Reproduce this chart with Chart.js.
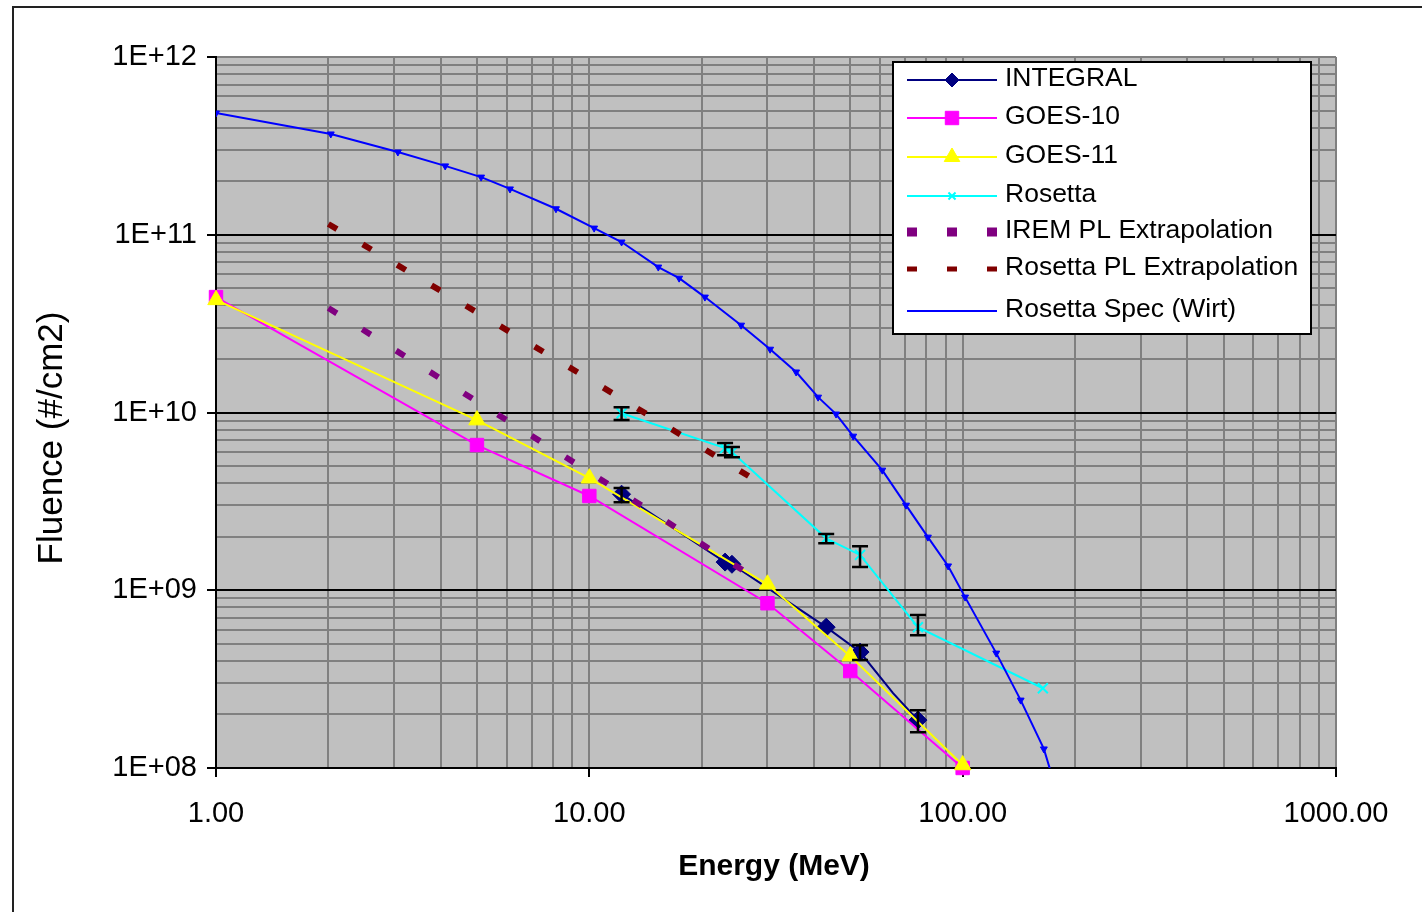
<!DOCTYPE html>
<html>
<head>
<meta charset="utf-8">
<script src="https://cdn.jsdelivr.net/npm/chart.js@4.4.1/dist/chart.umd.min.js"></script>
<style>
  body { margin: 0; background: #fff; }
  #wrap { width: 1422px; height: 912px; position: relative; }
</style>
</head>
<body>
<div id="wrap"><canvas id="chart" width="1422" height="912"></canvas></div>
<script>
// energy (MeV) / fluence (#/cm2)
const integralEnergy = [12.2, 23.1, 24.1, 43.1, 53.1, 65.1, 75.9];
const integralFluence = [3.47e9, 1.44e9, 1.40e9, 6.2e8, 4.49e8, 2.64e8, 1.86e8];
const integralErrLow = [3.13e9, null, null, null, 4.05e8, null, 1.59e8];
const integralErrHigh = [3.76e9, null, null, null, 4.91e8, null, 2.11e8];

const goes10Energy = [1, 5, 10, 30, 50, 100];
const goes10Fluence = [4.46e10, 6.56e9, 3.39e9, 8.45e8, 3.51e8, 1.0e8];

const goes11Energy = [1, 5, 10, 30, 50, 100];
const goes11Fluence = [4.3e10, 9.06e9, 4.27e9, 1.08e9, 4.26e8, 1.04e8];

const rosettaEnergy = [12.2, 23.1, 24.1, 43.1, 53.1, 75.9, 164];
const rosettaFluence = [9.9e9, 6.3e9, 5.99e9, 1.96e9, 1.58e9, 6.2e8, 2.81e8];
const rosettaErrLow = [9.06e9, 5.75e9, 5.6e9, 1.84e9, 1.35e9, 5.59e8, null];
const rosettaErrHigh = [1.07e10, 6.73e9, 6.4e9, 2.07e9, 1.77e9, 7.25e8, null];

const iremPlEnergy = [2, 10, 26];
const iremPlFluence = [3.87e10, 4.62e9, 1.28e9];

const rosettaPlEnergy = [2, 10, 27];
const rosettaPlFluence = [1.15e11, 1.54e10, 4.33e9];

const wirtEnergy = [1.0, 2.03, 3.07, 4.11, 5.13, 6.13, 8.14, 10.3, 12.2, 15.3, 17.4, 20.4, 25.5, 30.5, 35.8,
  41.0, 45.8, 50.9, 60.9, 70.5, 80.7, 91.4, 101.5, 123, 143, 165, 180];
const wirtFluence = [4.84e11, 3.69e11, 2.92e11, 2.44e11, 2.11e11, 1.81e11, 1.40e11, 1.09e11, 9.1e10, 6.58e10,
  5.7e10, 4.46e10, 3.1e10, 2.27e10, 1.69e10, 1.22e10, 9.8e9, 7.36e9, 4.74e9, 3.01e9, 1.99e9, 1.37e9,
  9.15e8, 4.43e8, 2.41e8, 1.28e8, 7.0e7];

const xTickValues = [1, 10, 100, 1000];
const xTickLabels = ['1.00', '10.00', '100.00', '1000.00'];
const yTickValues = [1e8, 1e9, 1e10, 1e11, 1e12];
const yTickLabels = ['1E+08', '1E+09', '1E+10', '1E+11', '1E+12'];

const FONT = '"Liberation Sans", Arial, sans-serif';

function pts(xs, ys) {
  return xs.map((x, i) => ({ x: x, y: ys[i] }));
}

// 1..9 steps in each decade, for the grid
function logSteps(lo, hi) {
  const out = [];
  for (let d = lo; d < hi; d++) {
    for (let m = 1; m < 10; m++) out.push(m * Math.pow(10, d));
  }
  out.push(Math.pow(10, hi));
  return out;
}

function isMajor(list, v) {
  return list.some(t => Math.abs(t - v) / t < 1e-6);
}

const background = {
  id: 'background',
  beforeDraw(chart) {
    const { ctx, chartArea: a } = chart;
    ctx.save();
    ctx.fillStyle = '#fff';
    ctx.fillRect(0, 0, chart.width, chart.height);
    ctx.fillStyle = '#c0c0c0';
    ctx.fillRect(a.left, a.top, a.right - a.left, a.bottom - a.top);
    // outer frame (only top and left show in the picture)
    ctx.strokeStyle = '#222';
    ctx.lineWidth = 2;
    ctx.beginPath();
    ctx.moveTo(13, 912);
    ctx.lineTo(13, 7);
    ctx.lineTo(1422, 7);
    ctx.stroke();
    ctx.restore();
  }
};

const errorBars = {
  id: 'errorBars',
  afterDatasetsDraw(chart) {
    const { ctx, scales: { x, y } } = chart;
    ctx.save();
    ctx.strokeStyle = '#000';
    ctx.lineWidth = 2.5;
    chart.data.datasets.forEach(ds => {
      if (!ds.errLow) return;
      ds.data.forEach((p, i) => {
        const lo = ds.errLow[i], hi = ds.errHigh[i];
        if (lo == null || hi == null) return;
        const px = x.getPixelForValue(p.x);
        const y1 = y.getPixelForValue(hi), y2 = y.getPixelForValue(lo);
        ctx.beginPath();
        ctx.moveTo(px, y1); ctx.lineTo(px, y2);
        ctx.moveTo(px - 8, y1); ctx.lineTo(px + 8, y1);
        ctx.moveTo(px - 8, y2); ctx.lineTo(px + 8, y2);
        ctx.stroke();
      });
    });
    ctx.restore();
  }
};

const boxLegend = {
  id: 'boxLegend',
  afterDraw(chart) {
    const ctx = chart.ctx;
    const rows = [80, 118, 157, 196, 232, 269, 311];
    ctx.save();
    ctx.fillStyle = '#fff';
    ctx.fillRect(893, 62, 418, 272);
    ctx.strokeStyle = '#000';
    ctx.lineWidth = 2;
    ctx.strokeRect(893, 62, 418, 272);
    chart.data.datasets.forEach((ds, i) => {
      const ry = rows[i];
      ctx.save();
      ctx.strokeStyle = ds.borderColor;
      ctx.lineWidth = ds.legendLineWidth || ds.borderWidth;
      ctx.setLineDash(ds.borderDash || []);
      ctx.beginPath();
      ctx.moveTo(907, ry);
      ctx.lineTo(997, ry);
      ctx.stroke();
      ctx.restore();
      if (ds.pointStyle && ds.legendRadius) {
        ctx.save();
        ctx.fillStyle = ds.pointBackgroundColor || ds.borderColor;
        ctx.strokeStyle = ds.pointBorderColor || ds.borderColor;
        ctx.lineWidth = ds.pointBorderWidth || 1;
        Chart.helpers.drawPoint(ctx, {
          pointStyle: ds.pointStyle,
          radius: ds.legendRadius,
          rotation: ds.pointRotation || 0,
          borderWidth: ds.pointBorderWidth || 1
        }, 952, ry);
        ctx.restore();
      }
      ctx.fillStyle = '#000';
      ctx.font = '26.5px ' + FONT;
      ctx.textBaseline = 'middle';
      ctx.textAlign = 'left';
      ctx.fillText(ds.label, 1005, ry - 1);
    });

    // axis titles
    ctx.fillStyle = '#000';
    ctx.textAlign = 'center';
    ctx.textBaseline = 'middle';
    ctx.font = 'bold 30px ' + FONT;
    ctx.fillText('Energy (MeV)', 774, 867);
    ctx.save();
    ctx.translate(52, 438);
    ctx.rotate(-Math.PI / 2);
    ctx.font = '35px ' + FONT;
    ctx.fillText('Fluence (#/cm2)', 0, 0);
    ctx.restore();
    ctx.restore();
  }
};

new Chart(document.getElementById('chart'), {
  type: 'scatter',
  data: {
    datasets: [
      {
        label: 'INTEGRAL',
        data: pts(integralEnergy, integralFluence),
        errLow: integralErrLow, errHigh: integralErrHigh,
        showLine: true, borderColor: '#000080', backgroundColor: '#000080',
        borderWidth: 2, pointStyle: 'rectRot', pointRadius: [9, 9, 9, 9, 9, 0, 9],
        pointBorderWidth: 1, legendRadius: 7, clip: false, order: 7
      },
      {
        label: 'GOES-10',
        data: pts(goes10Energy, goes10Fluence),
        showLine: true, borderColor: '#ff00ff', backgroundColor: '#ff00ff',
        borderWidth: 2, pointStyle: 'rect', pointRadius: 9.5, pointBorderWidth: 1,
        legendRadius: 9.5, clip: false, order: 6
      },
      {
        label: 'GOES-11',
        data: pts(goes11Energy, goes11Fluence),
        showLine: true, borderColor: '#ffff00', backgroundColor: '#ffff00',
        borderWidth: 2, pointStyle: 'triangle', pointRadius: 9.5, pointBorderWidth: 1,
        legendRadius: 9, clip: false, order: 5
      },
      {
        label: 'Rosetta',
        data: pts(rosettaEnergy, rosettaFluence),
        errLow: rosettaErrLow, errHigh: rosettaErrHigh,
        showLine: true, borderColor: '#00ffff', backgroundColor: '#00ffff',
        borderWidth: 2, pointStyle: 'crossRot', pointRadius: 7, pointBorderWidth: 2,
        legendRadius: 5, clip: false, order: 4
      },
      {
        label: 'IREM PL Extrapolation',
        data: pts(iremPlEnergy, iremPlFluence),
        showLine: true, borderColor: '#800080', backgroundColor: '#800080',
        borderWidth: 6, legendLineWidth: 9, borderDash: [10, 30], pointRadius: 0,
        clip: false, order: 3
      },
      {
        label: 'Rosetta PL Extrapolation',
        data: pts(rosettaPlEnergy, rosettaPlFluence),
        showLine: true, borderColor: '#800000', backgroundColor: '#800000',
        borderWidth: 6, legendLineWidth: 5, borderDash: [10, 30], pointRadius: 0,
        clip: false, order: 2
      },
      {
        label: 'Rosetta Spec (Wirt)',
        data: pts(wirtEnergy, wirtFluence),
        showLine: true, borderColor: '#0000ff', backgroundColor: '#0000ff',
        borderWidth: 2, pointStyle: 'triangle', pointRotation: 180, pointRadius: 4,
        pointBorderWidth: 1, order: 1
      }
    ]
  },
  options: {
    responsive: false,
    animation: false,
    layout: { padding: { left: 0, top: 57, right: 86, bottom: 0 } },
    plugins: { legend: { display: false }, tooltip: { enabled: false } },
    elements: { line: { tension: 0 } },
    scales: {
      x: {
        type: 'logarithmic',
        min: 1, max: 1000,
        afterBuildTicks: s => { s.ticks = logSteps(0, 3).map(v => ({ value: v })); },
        afterFit: s => { s.height = 144; },
        border: { display: true, color: '#000', width: 2 },
        grid: {
          color: '#808080', lineWidth: 2, tickLength: 9, tickWidth: 2,
          tickColor: c => isMajor(xTickValues, c.tick.value) ? '#000' : 'rgba(0,0,0,0)'
        },
        ticks: {
          autoSkip: false, maxRotation: 0, minRotation: 0, padding: 20,
          color: '#000', font: { family: FONT, size: 29 },
          callback: v => {
            const i = xTickValues.findIndex(t => Math.abs(t - v) / t < 1e-6);
            return i >= 0 ? xTickLabels[i] : '';
          }
        }
      },
      y: {
        type: 'logarithmic',
        min: 1e8, max: 1e12,
        afterBuildTicks: s => { s.ticks = logSteps(8, 12).map(v => ({ value: v })); },
        afterFit: s => { s.width = 216; },
        border: { display: true, color: '#000', width: 2 },
        grid: {
          lineWidth: 2, tickLength: 9, tickWidth: 2,
          color: c => (isMajor(yTickValues, c.tick.value) && c.tick.value < 1e12) ? '#000' : '#808080',
          tickColor: c => isMajor(yTickValues, c.tick.value) ? '#000' : 'rgba(0,0,0,0)'
        },
        ticks: {
          autoSkip: false, padding: 10,
          color: '#000', font: { family: FONT, size: 29 },
          callback: v => {
            const i = yTickValues.findIndex(t => Math.abs(t - v) / t < 1e-6);
            return i >= 0 ? yTickLabels[i] : '';
          }
        }
      }
    }
  },
  plugins: [background, errorBars, boxLegend]
});
</script>
</body>
</html>
